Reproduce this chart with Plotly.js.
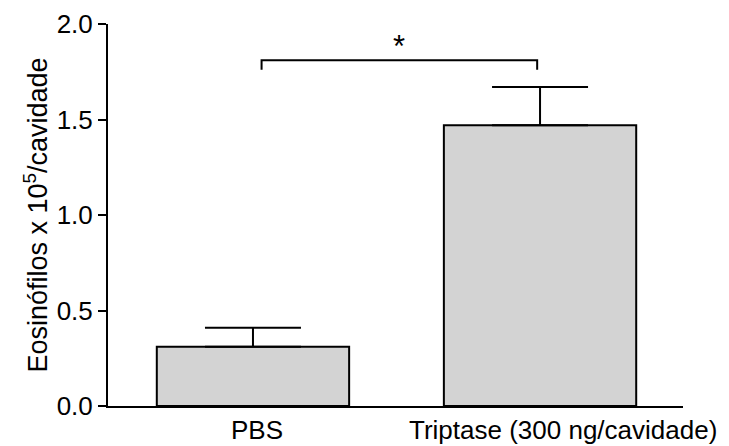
<!DOCTYPE html>
<html>
<head>
<meta charset="utf-8">
<script src="https://cdn.plot.ly/plotly-3.0.1.min.js"></script>
<style>html,body{margin:0;padding:0;background:#fff;}#chart{width:729px;height:446px;}</style>
</head>
<body>
<div id="chart"></div>
<script>
const categories = ["PBS", "Triptase (300 ng/cavidade)"];
const means = [0.31, 1.47];
const errors = [0.10, 0.20];
const yTicks = [0, 0.5, 1.0, 1.5, 2.0];
const yTickLabels = ["0.0", "0.5", "1.0", "1.5", "2.0"];
const sigLabel = "*";
const bracketX = [0.03, 0.99];
const bracketY = 1.81;
const bracketDrop = 0.05;

const xPos = categories.map((c, i) => i);
const font = "Liberation Sans, Arial, sans-serif";

const bars = {
  type: "bar",
  x: xPos,
  y: means,
  width: 0.67,
  marker: {color: "#d3d3d3", line: {color: "#000", width: 2}},
  error_y: {type: "data", symmetric: false, array: errors, arrayminus: [0, 0],
            color: "#000", thickness: 2, width: 48},
  hoverinfo: "skip"
};

const bracket = {
  type: "scatter", mode: "lines",
  x: [bracketX[0], bracketX[0], bracketX[1], bracketX[1]],
  y: [bracketY - bracketDrop, bracketY, bracketY, bracketY - bracketDrop],
  line: {color: "#000", width: 2},
  hoverinfo: "skip"
};

const layout = {
  width: 729, height: 446,
  margin: {l: 108, r: 46, t: 24, b: 40},
  paper_bgcolor: "#fff", plot_bgcolor: "#fff",
  showlegend: false,
  font: {family: font, color: "#000"},
  xaxis: {
    range: [-0.505, 1.498], showgrid: false, zeroline: false,
    showline: true, linecolor: "#000", linewidth: 2,
    showticklabels: false, ticks: "", fixedrange: true
  },
  yaxis: {
    range: [0, 2.0], showgrid: false, zeroline: false,
    showline: true, linecolor: "#000", linewidth: 2,
    ticks: "outside", ticklen: 8, tickwidth: 2, tickcolor: "#000",
    tickvals: yTicks, ticktext: yTickLabels,
    tickfont: {family: font, size: 26, color: "#000"},
    title: {text: "Eosinófilos x 10<sup>5</sup>/cavidade", font: {family: font, size: 27, color: "#000"}, standoff: 1},
    automargin: false
  },
  annotations: [
    {x: xPos[0], y: 0, xref: "x", yref: "y", text: categories[0], showarrow: false,
     yanchor: "top", yshift: -7, xshift: 4, font: {family: font, size: 26, color: "#000"}},
    {x: xPos[1], y: 0, xref: "x", yref: "y", text: categories[1], showarrow: false,
     yanchor: "top", yshift: -7, xshift: 23, font: {family: font, size: 26, color: "#000"}},
    {x: (bracketX[0] + bracketX[1]) / 2, y: bracketY, xref: "x", yref: "y", text: sigLabel,
     showarrow: false, yanchor: "bottom", yshift: -6, font: {family: font, size: 31, color: "#000"}}
  ]
};

Plotly.newPlot("chart", [bars, bracket], layout, {displayModeBar: false, staticPlot: true});
</script>
</body>
</html>
